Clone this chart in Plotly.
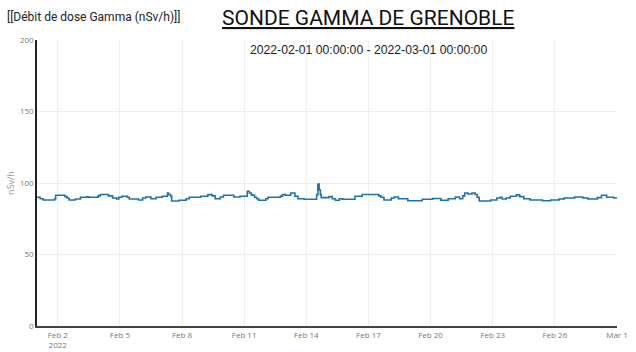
import plotly.graph_objects as go
import pandas as pd

start = "2022-02-01 00:00:00"
end = "2022-03-01 00:00:00"

# offsets in days from start, and dose rate values (nSv/h)
day_offsets = [0.0, 0.15, 0.3, 0.85, 0.9, 1.35, 1.45, 1.55, 1.85, 2.1, 2.4, 2.5, 2.95, 3.05, 3.45, 3.65,
               3.85, 3.95, 4.1, 4.35, 4.45, 4.9, 5.1, 5.25, 5.5, 5.75, 6.05, 6.3, 6.35, 6.45, 6.5, 6.85,
               7.2, 7.35, 7.9, 8.25, 8.45, 8.6, 8.85, 9.0, 9.5, 9.8, 10.15, 10.25, 10.35, 10.5, 10.6,
               10.7, 11.05, 11.15, 11.75, 11.85, 12.0, 12.25, 12.45, 12.6, 12.9, 13.5, 13.56, 13.62,
               13.68, 13.72, 14.1, 14.25, 14.4, 14.6, 14.75, 15.35, 15.7, 16.5, 16.6, 16.75, 17.1,
               17.25, 17.45, 17.9, 18.6, 19.1, 19.5, 19.85, 20.2, 20.4, 20.55, 20.65, 20.8, 21.0,
               21.15, 21.25, 21.35, 21.9, 22.2, 22.35, 22.45, 22.65, 22.85, 23.15, 23.3, 23.5, 23.8,
               24.4, 24.8, 25.2, 25.45, 25.95, 26.35, 26.6, 27.05, 27.25, 27.5, 27.85, 28.0]
dose_values = [90.0, 89.0, 88.1, 89.0, 91.4, 90.5, 89.5, 88.1, 88.8, 90.0, 90.3, 90.0, 91.0, 92.0, 91.0, 89.5,
               88.8, 90.0, 90.7, 90.0, 88.8, 88.1, 89.5, 90.2, 89.0, 90.0, 90.7, 93.0, 92.0, 90.9, 87.4, 87.9,
               89.0, 90.0, 90.7, 91.9, 91.0, 89.0, 90.2, 91.4, 90.2, 90.7, 94.2, 93.0, 91.5, 90.0, 89.0,
               87.9, 89.0, 90.0, 90.8, 91.9, 91.4, 93.0, 90.7, 89.0, 88.6, 91.9, 99.3, 95.2,
               91.9, 89.8, 90.5, 89.0, 87.9, 89.0, 88.6, 90.7, 92.0, 91.0, 90.0, 88.1, 89.5,
               90.2, 89.0, 87.6, 88.6, 89.2, 87.9, 89.0, 90.2, 89.0, 91.0, 93.0, 92.3, 93.0,
               92.0, 90.0, 87.4, 88.1, 89.5, 90.0, 88.8, 89.5, 90.7, 91.7, 90.5, 89.0, 88.1,
               87.6, 88.1, 88.8, 89.5, 90.2, 89.5, 88.8, 89.8, 91.4, 90.0, 89.5, 89.5]

y_ticks = [0, 50, 100, 150, 200]

times = pd.Timestamp(start) + pd.to_timedelta(day_offsets, unit="D")

fig = go.Figure()
fig.add_trace(go.Scatter(
    x=times, y=dose_values, mode="lines",
    line=dict(color="#1f72ad", width=1.6, shape="hv"),
    showlegend=False,
))

tick_font = dict(family="Open Sans, Verdana, sans-serif", size=8, color="#777")

fig.update_layout(
    width=636, height=352,
    margin=dict(l=37, r=19, t=40, b=26),
    paper_bgcolor="white", plot_bgcolor="white",
    xaxis=dict(
        range=[start, end], showgrid=True, gridcolor="#eeeeee", gridwidth=1,
        showline=True, linecolor="#444", linewidth=2,
        dtick=3 * 86400000, tick0="2022-02-02",
        tickfont=tick_font, ticks="", zeroline=False, automargin=False,
    ),
    yaxis=dict(
        range=[0, 200], tickvals=y_ticks, showgrid=True, gridcolor="#eeeeee", gridwidth=1,
        showline=True, linecolor="#222", linewidth=1.5, ticks="", tickfont=tick_font,
        zeroline=False, automargin=False,
        title=dict(text="nSv/h", font=dict(family="Open Sans, sans-serif", size=9, color="#999"),
                   standoff=4),
    ),
)

# annotations positioned in pixel terms, converted to paper coordinates
W, H = 636, 352
l, r, t, b = 37, 19, 40, 26
pw, ph = W - l - r, H - t - b
texts = [
    ("<u>SONDE GAMMA DE GRENOBLE</u>", 368, 18, "center", dict(family="Roboto, sans-serif", size=21, color="#111")),
    ("[[Débit de dose Gamma (nSv/h)]]", 5, 17, "left", dict(family="Roboto, sans-serif", size=12, color="#222")),
    ("2022-02-01 00:00:00 - 2022-03-01 00:00:00", 368, 50, "center",
     dict(family="Liberation Sans, Arial, sans-serif", size=12.2, color="#222")),
]
anns = []
for text, px, py, xa, font in texts:
    anns.append(dict(text=text, font=font, showarrow=False, xref="paper", yref="paper",
                     x=(px - l) / pw, y=(H - b - py) / ph, xanchor=xa, yanchor="middle"))
fig.update_layout(annotations=anns)

fig.write_html("out.html")
